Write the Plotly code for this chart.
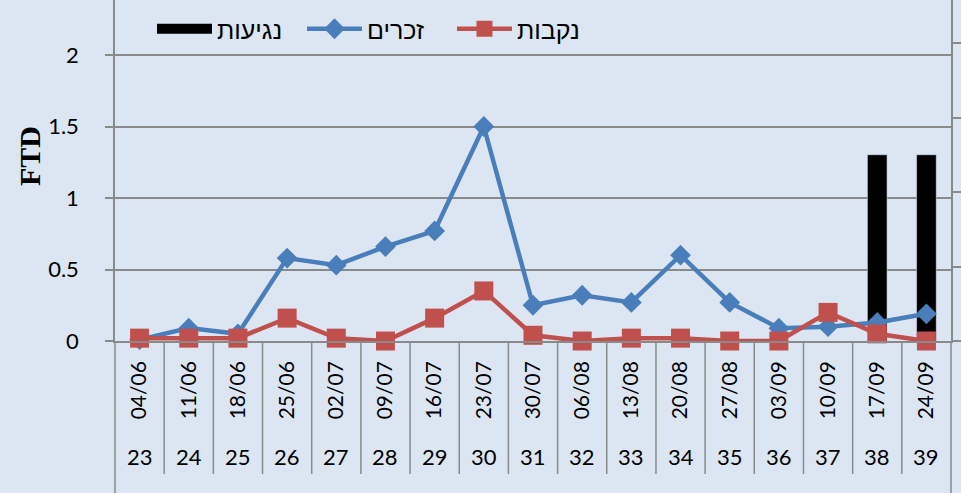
import plotly.graph_objects as go

dates = ["04/06", "11/06", "18/06", "25/06", "02/07", "09/07", "16/07", "23/07", "30/07",
         "06/08", "13/08", "20/08", "27/08", "03/09", "10/09", "17/09", "24/09"]
weeks = ["23", "24", "25", "26", "27", "28", "29", "30", "31",
         "32", "33", "34", "35", "36", "37", "38", "39"]
males = [0.01, 0.09, 0.05, 0.58, 0.53, 0.66, 0.77, 1.50, 0.25,
         0.32, 0.27, 0.60, 0.27, 0.09, 0.10, 0.13, 0.19]
females = [0.02, 0.02, 0.02, 0.16, 0.02, 0.0, 0.16, 0.35, 0.04,
           0.0, 0.02, 0.02, 0.0, 0.0, 0.20, 0.05, 0.0]
infest = [None] * 15 + [2.5, 2.5]

names = {"infest": "נגיעות", "males": "זכרים", "females": "נקבות"}

BG = "#dce6f2"
GRID = "#8a8a8a"
BLUE = "#4a7ebb"
RED = "#c0504d"

x = list(range(len(dates)))

fig = go.Figure()
# legend entry for the bars (wide black swatch like the original)
fig.add_trace(go.Scatter(x=[None], y=[None], name=names["infest"], mode="lines",
                         line=dict(color="black", width=13), yaxis="y",
                         legendrank=1))
fig.add_trace(go.Bar(x=x, y=infest, name=names["infest"], marker_color="black",
                     width=0.4, yaxis="y", showlegend=False))
fig.add_trace(go.Scatter(x=x, y=males, name=names["males"], yaxis="y2",
                         mode="lines+markers", cliponaxis=False, legendrank=2,
                         line=dict(color=BLUE, width=4.5),
                         marker=dict(symbol="diamond", size=16, color=BLUE)))
fig.add_trace(go.Scatter(x=x, y=females, name=names["females"], yaxis="y2",
                         mode="lines+markers", cliponaxis=False, legendrank=3,
                         line=dict(color=RED, width=4.5),
                         marker=dict(symbol="square", size=19, color=RED)))

plot_h = 341
plot_w = 836
L = 115

def py(px):
    return (plot_h - px) / plot_h

def pxp(px):
    return (px - L) / plot_w

shapes = []
for i in range(len(dates) - 1):
    shapes.append(dict(type="line", xref="x", yref="paper", x0=i + 0.5, x1=i + 0.5,
                       y0=0, y1=py(474), line=dict(color=GRID, width=1.5)))
for xp in (0, 1):
    shapes.append(dict(type="line", xref="paper", yref="paper", x0=xp, x1=xp,
                       y0=0, y1=py(493), line=dict(color=GRID, width=1.5)))

annotations = []
for i, w in enumerate(weeks):
    annotations.append(dict(x=i, y=py(456), xref="x", yref="paper", text=w,
                            showarrow=False, yanchor="middle",
                            font=dict(family="Lato", size=22, color="black")))
annotations.append(dict(x=pxp(29), y=py(156), xref="paper", yref="paper", text="<b>FTD</b>",
                        textangle=-90, showarrow=False, xanchor="center", yanchor="middle",
                        font=dict(family="Liberation Serif", size=30, color="black")))

fig.update_layout(
    width=961, height=493,
    margin=dict(l=L, r=961 - L - plot_w, t=0, b=493 - plot_h),
    paper_bgcolor=BG, plot_bgcolor=BG,
    showlegend=True,
    legend=dict(orientation="h", x=pxp(152), y=py(29), xanchor="left",
                yanchor="middle", bgcolor="rgba(0,0,0,0)",
                font=dict(family="Liberation Sans", size=25, color="black"),
                itemwidth=55, traceorder="normal", entrywidth=80),
    xaxis=dict(type="linear", range=[-0.5, 16.5], tickmode="array", tickvals=x,
               ticktext=dates, tickangle=-90, ticks="", showgrid=False, zeroline=False,
               showline=True, linecolor=GRID, linewidth=1.5, ticklabelstandoff=10,
               tickfont=dict(family="Lato", size=21, color="black")),
    yaxis=dict(side="right", range=[0, plot_h / 74.5], dtick=1, tick0=0, ticks="outside",
               ticklen=8, tickcolor=GRID, tickwidth=1.5, showticklabels=False,
               showgrid=False, zeroline=False, showline=True, linecolor=GRID, linewidth=1.5),
    yaxis2=dict(overlaying="y", side="left", range=[0, plot_h / 143], dtick=0.5, tick0=0,
                ticks="outside", ticklen=8, tickcolor=GRID, tickwidth=1.5,
                showgrid=True, gridcolor=GRID, gridwidth=1.5, zeroline=False,
                showline=True, linecolor=GRID, linewidth=1.5, ticklabelstandoff=22,
                tickfont=dict(family="Lato", size=22, color="black")),
    shapes=shapes,
    annotations=annotations,
)

fig.write_html(
    "out.html",
    config={"displayModeBar": False},
    post_script="document.body.style.margin='0';document.body.style.background='%s';" % BG,
)
